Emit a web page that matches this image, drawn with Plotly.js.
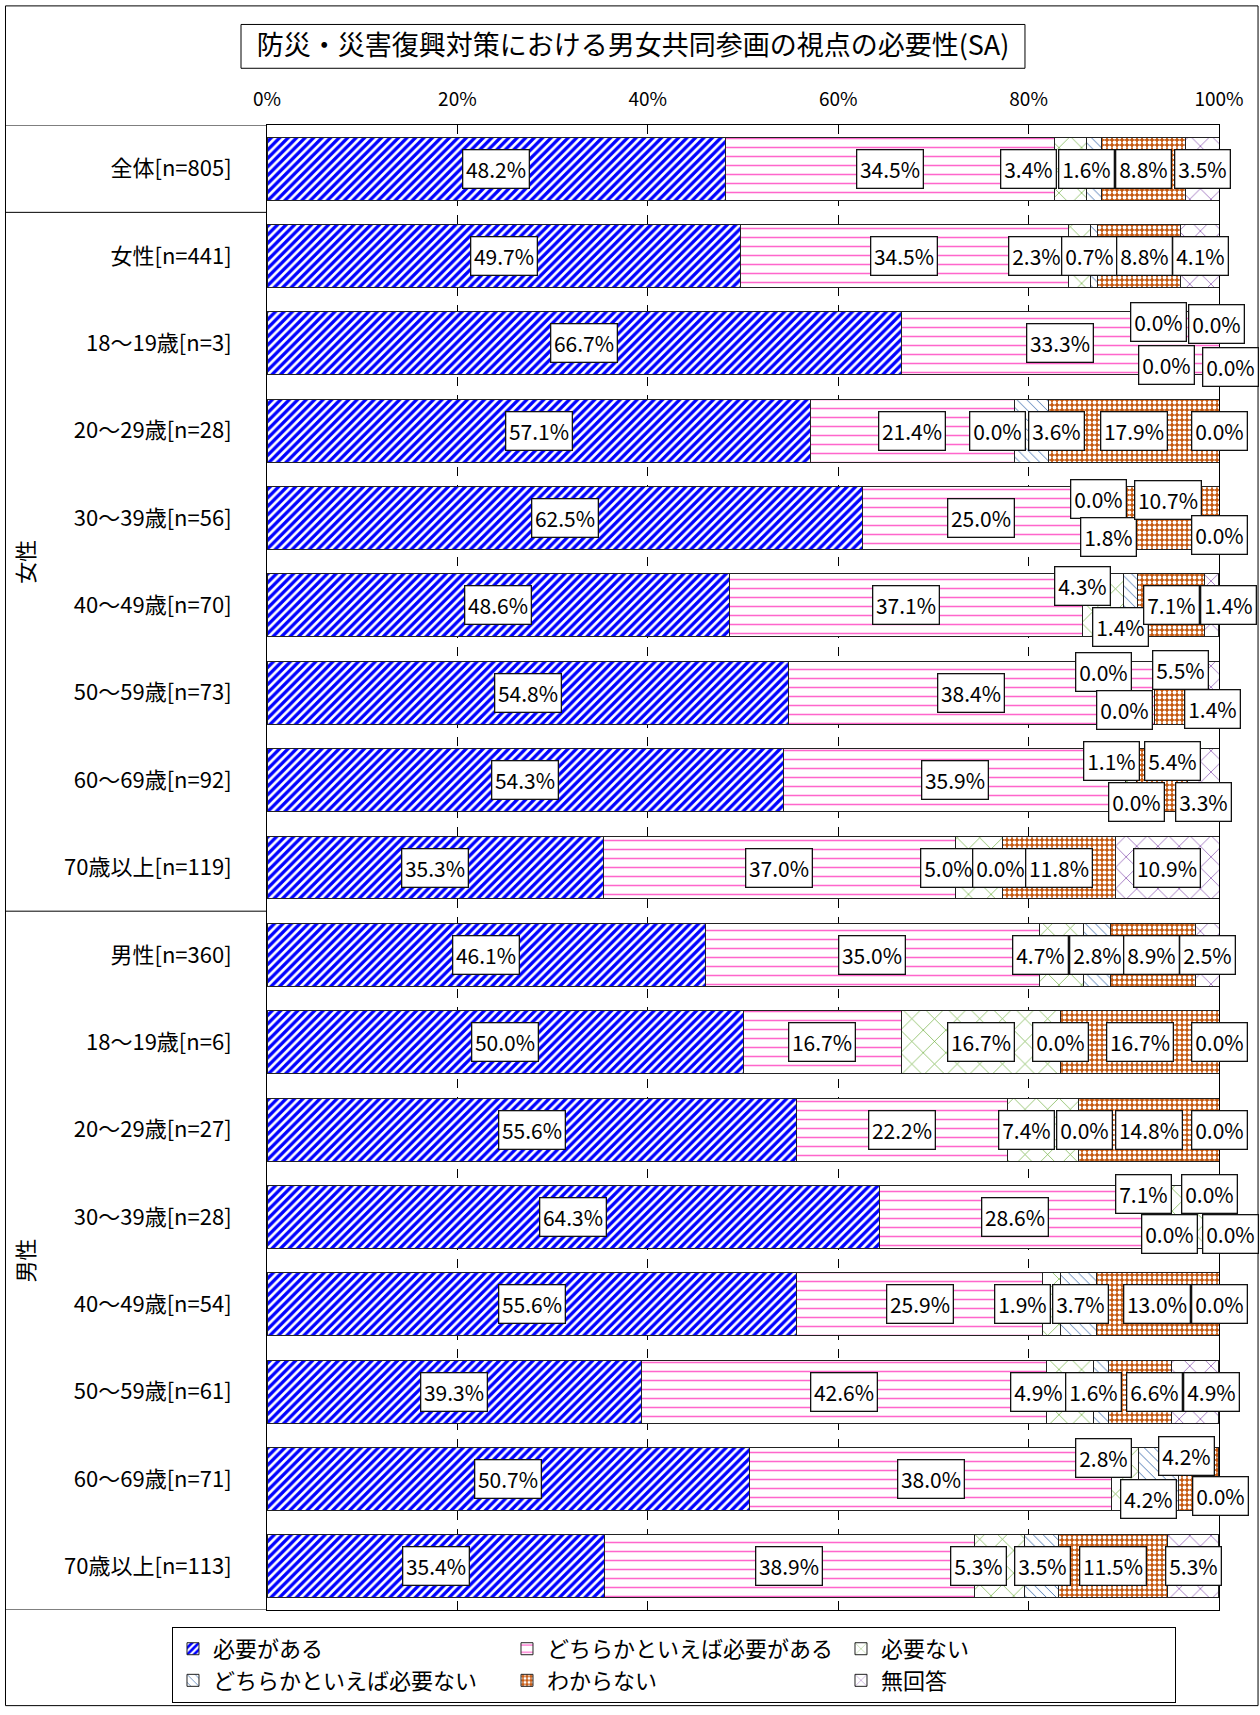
<!DOCTYPE html>
<html><head><meta charset="utf-8">
<script src="https://cdn.plot.ly/plotly-3.0.1.min.js"></script>
<style>html,body{margin:0;padding:0;background:#fff;} #chart{width:1260px;height:1715px;}</style>
</head><body><div id="chart"></div>
<script>
// ---------- data ----------
const chartTitle = '防災・災害復興対策における男女共同参画の視点の必要性(SA)';
const categories = ['全体[n=805]','女性[n=441]','18〜19歳[n=3]','20〜29歳[n=28]','30〜39歳[n=56]','40〜49歳[n=70]','50〜59歳[n=73]','60〜69歳[n=92]','70歳以上[n=119]','男性[n=360]','18〜19歳[n=6]','20〜29歳[n=27]','30〜39歳[n=28]','40〜49歳[n=54]','50〜59歳[n=61]','60〜69歳[n=71]','70歳以上[n=113]'];
const groupLabels = ['女性','男性'];
const groupCenters = [4.5, 12.5];
const seriesNames = ['必要がある','どちらかといえば必要がある','必要ない','どちらかといえば必要ない','わからない','無回答'];
const hitsuyouAru = [48.2,49.7,66.7,57.1,62.5,48.6,54.8,54.3,35.3,46.1,50.0,55.6,64.3,55.6,39.3,50.7,35.4];
const dochiraAru  = [34.5,34.5,33.3,21.4,25.0,37.1,38.4,35.9,37.0,35.0,16.7,22.2,28.6,25.9,42.6,38.0,38.9];
const hitsuyouNai = [3.4,2.3,0.0,0.0,0.0,4.3,0.0,1.1,5.0,4.7,16.7,7.4,7.1,1.9,4.9,2.8,5.3];
const dochiraNai  = [1.6,0.7,0.0,3.6,1.8,1.4,0.0,0.0,0.0,2.8,0.0,0.0,0.0,3.7,1.6,4.2,3.5];
const wakaranai   = [8.8,8.8,0.0,17.9,10.7,7.1,5.5,5.4,11.8,8.9,16.7,14.8,0.0,13.0,6.6,4.2,11.5];
const mukaitou    = [3.5,4.1,0.0,0.0,0.0,1.4,1.4,3.3,10.9,2.5,0.0,0.0,0.0,0.0,4.9,0.0,5.3];
const xTickVals = [0,20,40,60,80,100];
const xTickText = ['0%','20%','40%','60%','80%','100%'];

// ---------- styling ----------
const FONT = "'Noto Sans CJK JP', 'Noto Sans', sans-serif";
const series = [hitsuyouAru, dochiraAru, hitsuyouNai, dochiraNai, wakaranai, mukaitou];
const patterns = [
  {shape:'/', fgcolor:'#0000FF', bgcolor:'#FFFFFF', size:6, solidity:0.55},
  {shape:'-', fgcolor:'#FF66CC', bgcolor:'#FFFFFF', size:9, solidity:0.17},
  {shape:'x', fgcolor:'#66AA33', bgcolor:'#FFFFFF', size:16, solidity:0.08},
  {shape:'\\', fgcolor:'#3366AA', bgcolor:'#FFFFFF', size:7, solidity:0.12},
  {shape:'.', fgcolor:'#FFFFFF', bgcolor:'#C65911', size:5, solidity:0.45},
  {shape:'x', fgcolor:'#7030A0', bgcolor:'#FFFFFF', size:15, solidity:0.08}
];
// label nudges (px) for series 3..6 of each row: [dx, dy(down)]
const labelNudge = [
  [[-42,0],[-8,0],[0,0],[0,0]],
  [[-43,0],[-4,0],[5,0],[0,0]],
  [[-61,-21],[-53,22],[-3,-19],[11,24]],
  [[-17,0],[25,0],[0,0],[0,0]],
  [[-2,-19],[0,19],[0,-18],[0,17]],
  [[-21,-19],[-10,22],[1,0],[17,0]],
  [[-51,-21],[-30,17],[0,-23],[-1,16]],
  [[-19,-19],[0,22],[11,-19],[0,22]],
  [[-31,0],[-2,0],[0,0],[0,0]],
  [[-21,0],[0,0],[-1,0],[0,0]],
  [[0,0],[0,0],[0,0],[0,0]],
  [[-16,0],[6,0],[0,0],[0,0]],
  [[-42,-23],[-50,17],[-10,-23],[11,17]],
  [[-29,0],[2,0],[-1,0],[0,0]],
  [[-32,0],[-7,0],[15,0],[17,0]],
  [[-21,-21],[-10,20],[-12,-23],[2,17]],
  [[-21,0],[1,0],[0,0],[1,0]]
];

const rowIdx = categories.map((c,i)=>i);
const traces = series.map((vals, s) => ({
  type:'bar', orientation:'h', name: seriesNames[s],
  x: vals, y: rowIdx,
  marker:{color:'#FFFFFF', pattern: Object.assign({fillmode:'replace'}, patterns[s]), line:{color:'#222222', width:1}},
  hoverinfo:'skip', textposition:'none'
}));

const annotations = [];
categories.forEach((c, r) => {
  let cum = 0;
  series.forEach((vals, s) => {
    const v = vals[r];
    const nd = s >= 2 ? labelNudge[r][s-2] : [0,0];
    const txt = v.toFixed(1) + '%';
    annotations.push({
      x: Math.min(cum + v/2, 100), y: r, xref:'x', yref:'y', text: txt, showarrow:false,
      xshift: nd[0], yshift: -nd[1],
      font:{family:FONT, size:21, color:'#000'},
      bgcolor:'#FFFFFF', bordercolor:'#111111', borderwidth:1.3, borderpad:0,
      width: txt.length*11.3 + 9, height: 37, align:'center', valign:'middle'
    });
    cum += v;
  });
});
groupLabels.forEach((g, i) => {
  annotations.push({x:-0.2553, xref:'paper', y: groupCenters[i], yref:'y', text:g, textangle:-90,
    showarrow:false, xanchor:'center', yanchor:'middle', font:{family:FONT, size:22, color:'#000'}});
});

const shapes = [
  // outer frame
  {type:'rect', xref:'paper', yref:'paper', x0:-0.2747, x1:1.041, y0:-0.0644, y1:1.0802, line:{color:'#000', width:1}},
  // title box
  {type:'rect', xref:'paper', yref:'paper', x0:-0.0273, x1:0.7962, y0:1.0382, y1:1.0677, line:{color:'#000', width:1}},
];
[-0.5, 0.5, 8.5, 16.5].forEach(yv => {
  shapes.push({type:'line', xref:'paper', yref:'y', x0:-0.2747, x1:0, y0:yv, y1:yv, line:{color:'#000', width:1}});
});

const layout = {
  width:1260, height:1715,
  margin:{l:267, r:41, t:125, b:99},
  paper_bgcolor:'#FFFFFF', plot_bgcolor:'#FFFFFF',
  font:{family:FONT, color:'#000'},
  title:{text: chartTitle, font:{family:FONT, size:27, color:'#000'}, xref:'paper', x:0.3845, xanchor:'center', yref:'container', y:0.9732, yanchor:'middle'},
  barmode:'stack', bargap:0.28,
  showlegend:true,
  legend:{orientation:'h', x:-0.0998, xanchor:'left', y:-0.0114, yanchor:'top',
    bgcolor:'#FFFFFF', bordercolor:'#000', borderwidth:1, entrywidth:289, entrywidthmode:'pixels',
    font:{family:FONT, size:22, color:'#000'}, traceorder:'normal'},
  xaxis:{range:[0,100], side:'top', tickvals:xTickVals, ticktext:xTickText, ticks:'',
    showgrid:true, gridcolor:'#000', griddash:'dash', gridwidth:1, zeroline:false,
    showline:true, mirror:true, linecolor:'#000', linewidth:1,
    tickfont:{family:FONT, size:19, color:'#000'}, ticklabelstandoff:10, fixedrange:true},
  yaxis:{range:[16.5,-0.5], tickvals:rowIdx, ticktext:categories, ticks:'',
    showgrid:false, zeroline:false, showline:true, mirror:true, linecolor:'#000', linewidth:1,
    tickfont:{family:FONT, size:22, color:'#000'}, ticklabelstandoff:30, fixedrange:true},
  annotations: annotations,
  shapes: shapes
};

Plotly.newPlot('chart', traces, layout, {staticPlot:true, displayModeBar:false});
</script>
</body></html>
